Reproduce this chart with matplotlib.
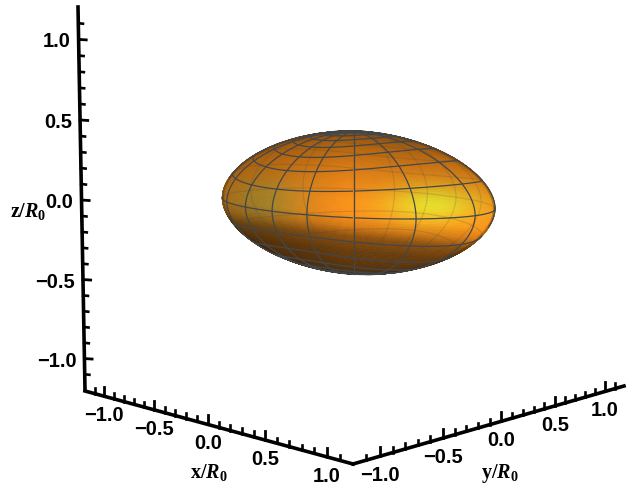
import numpy as np
import matplotlib

matplotlib.use("Agg")
import matplotlib.pyplot as plt
from matplotlib.collections import PolyCollection

plt.rcParams["mathtext.fontset"] = "custom"
plt.rcParams["mathtext.rm"] = "Liberation Serif:bold"
plt.rcParams["mathtext.it"] = "Liberation Serif:italic:bold"

major_ticks = [-1.0, -0.5, 0.0, 0.5, 1.0]
major_labels = ["\u22121.0", "\u22120.5", "0.0", "0.5", "1.0"]
minor_ticks = [v / 10 for v in range(-11, 12) if v % 5 != 0]
axis_limit = 1.2

# axis ends in image pixels, far/near depth ratio
x_axis = ((85, 392), (353, 465), 1.18)
y_axis = ((353, 465), (624, 387), 1 / 1.2)
z_axis = ((85, 391), (78, 8), 1.016)

# nucleus shape, in units of R0
semi_a, semi_b, semi_c = 0.98, 0.68, 0.44
shape_power = 1.86
long_axis_angle = np.radians(45)
elevation = np.radians(6.5)
n_mesh = 16
body_center = (354, 203)
px_per_unit = 161
camera_dist = 1400

# shading against position across the bright band
band_pos = [-1.1, -0.75, -0.45, -0.2, 0.0, 0.2, 0.35, 0.5, 0.7, 1.1]
band_light = [0.5, 0.72, 0.86, 0.94, 1.0, 1.0, 0.86, 0.56, 0.42, 0.32]


def body_project(theta, alpha):
    # alpha is measured from the viewer, to the right
    ang = alpha - long_axis_angle
    h0 = np.abs(np.sin(theta)) * np.sqrt(np.cos(ang) ** 2 / semi_a**2 + np.sin(ang) ** 2 / semi_b**2)
    z0 = np.abs(np.cos(theta)) / semi_c
    r = (h0**shape_power + z0**shape_power) ** (-1 / shape_power)
    px = r * np.sin(alpha) * np.sin(theta)
    pd = r * np.cos(alpha) * np.sin(theta)
    pz = r * np.cos(theta)
    depth = (pd * np.cos(elevation) + pz * np.sin(elevation)) * px_per_unit
    scale = px_per_unit / (1 - depth / camera_dist)
    sx = body_center[0] + px * scale
    sy = body_center[1] + (pd * np.sin(elevation) - pz * np.cos(elevation)) * scale
    # normal toward the viewer, to split the front from the back
    ca, sa = np.cos(long_axis_angle), np.sin(long_axis_angle)
    la = pd * ca + px * sa
    lb = -pd * sa + px * ca
    h = np.sqrt(la**2 / semi_a**2 + lb**2 / semi_b**2) + 1e-9
    gl = h ** (shape_power - 2) * la / semi_a**2
    gb = h ** (shape_power - 2) * lb / semi_b**2
    gz = np.abs(pz / semi_c) ** (shape_power - 1) * np.sign(pz) / semi_c
    nd = gl * ca - gb * sa
    nx = gl * sa + gb * ca
    norm = np.sqrt(nd**2 + nx**2 + gz**2) + 1e-9
    facing = (nd * np.cos(elevation) + gz * np.sin(elevation)) / norm
    return sx, sy, facing


def axis_point(t, axis):
    p0, p1, k = axis
    s = (np.asarray(t, float) + axis_limit) / (2 * axis_limit)
    w0, w1 = (1 - s) * k, s
    return (w0 * p0[0] + w1 * p1[0]) / (w0 + w1), (w0 * p0[1] + w1 * p1[1]) / (w0 + w1)


def shade(sx, sy, facing):
    u = (sx - 360) / 135
    v = (sy - body_center[1]) / 71
    light = np.interp(v - 0.2 * u, band_pos, band_light)
    light = light * (1 - 0.3 * np.clip(-u - 0.1, 0, 1))
    yellow = np.exp(-(((u - 0.55) / 0.36) ** 2) - ((v - 0.03) / 0.28) ** 2)
    olive = np.exp(-(((u + 0.72) / 0.3) ** 2) - (v / 0.36) ** 2)
    limb = 0.76 + 0.24 * np.clip(facing / 0.3, 0, 1)
    red = 252 * light * (1 - 0.22 * olive) * (1 - 0.07 * yellow) * limb
    green = (142 + 82 * yellow + 12 * olive) * light * limb
    blue = (22 + 20 * yellow + 22 * olive) * light * limb
    return np.clip(np.stack([red, green, blue], axis=-1) / 255, 0, 1)


fig = plt.figure(figsize=(6.27, 4.85), dpi=100)
ax = fig.add_axes([0, 0, 1, 1])
ax.set_xlim(0, 627)
ax.set_ylim(485, 0)
ax.axis("off")

# surface
th = np.linspace(0, np.pi, 181)
al = np.linspace(-np.pi, np.pi, 361)
T, A = np.meshgrid(th, al, indexing="ij")
SX, SY, F = body_project(T, A)
quads = np.stack(
    [
        np.stack([SX[:-1, :-1], SY[:-1, :-1]], -1),
        np.stack([SX[1:, :-1], SY[1:, :-1]], -1),
        np.stack([SX[1:, 1:], SY[1:, 1:]], -1),
        np.stack([SX[:-1, 1:], SY[:-1, 1:]], -1),
    ],
    axis=2,
)
Fc = F[:-1, :-1]
keep = Fc > -0.05
cx = quads[..., 0].mean(axis=2)
cy = quads[..., 1].mean(axis=2)
cols = shade(cx, cy, Fc)[keep]
ax.add_collection(PolyCollection(quads[keep], facecolors=cols, edgecolors=cols, linewidths=0.4, zorder=2))

# mesh lines: back ones show faintly through the skin
mesh_color = "#43474a"
dense = np.linspace(0.002, 0.998, 400)
for i in range(n_mesh):
    a_line = np.full_like(dense, i * 2 * np.pi / n_mesh)
    sx, sy, f = body_project(dense * np.pi, a_line)
    ax.plot(np.where(f < 0, sx, np.nan), sy, color=mesh_color, alpha=0.18, lw=0.9, zorder=3)
    ax.plot(np.where(f >= 0, sx, np.nan), sy, color=mesh_color, lw=0.9, zorder=4)
for i in range(1, n_mesh):
    t_line = np.full_like(dense, i * np.pi / n_mesh)
    sx, sy, f = body_project(t_line, dense * 2 * np.pi)
    ax.plot(np.where(f < 0, sx, np.nan), sy, color=mesh_color, alpha=0.18, lw=0.9, zorder=3)
    ax.plot(np.where(f >= 0, sx, np.nan), sy, color=mesh_color, lw=0.9, zorder=4)

# axes frame
ends = np.array([-axis_limit, axis_limit])
for axis in (x_axis, y_axis, z_axis):
    ex, ey = axis_point(ends, axis)
    ax.plot(ex, ey, color="black", lw=2.6, solid_capstyle="projecting", zorder=6)

for ticks, size, width in ((major_ticks, 9, 2.0), (minor_ticks, 5.5, 1.9)):
    for t in ticks:
        px, py = axis_point(t, x_axis)
        ax.plot([px, px], [py, py - size], color="black", lw=width, zorder=5)
        px, py = axis_point(t, y_axis)
        ax.plot([px, px], [py, py - size], color="black", lw=width, zorder=5)
        px, py = axis_point(t, z_axis)
        ax.plot([px, px + size * 0.85], [py, py + 0.5], color="black", lw=width, zorder=5)

tick_font = dict(family="Liberation Sans", fontweight="bold", fontsize=14.5, ha="center", va="center")
for t, lab in zip(major_ticks, major_labels):
    px, py = axis_point(t, x_axis)
    ax.text(px, py + 18.5, lab, **tick_font)
    px, py = axis_point(t, y_axis)
    ax.text(px, py + 18.5, lab, **tick_font)
    px, py = axis_point(t, z_axis)
    ax.text(px - 8, py + 1.5, lab, **{**tick_font, "ha": "right"})

ax.text(209, 473, r"$\mathrm{x/}R_{\mathrm{0}}$", fontsize=14.5, ha="center", va="center")
ax.text(500, 474, r"$\mathrm{y/}R_{\mathrm{0}}$", fontsize=14.5, ha="center", va="center")
ax.text(28, 212, r"$\mathrm{z/}R_{\mathrm{0}}$", fontsize=14.5, ha="center", va="center")

fig.savefig("out.png", dpi=100)
